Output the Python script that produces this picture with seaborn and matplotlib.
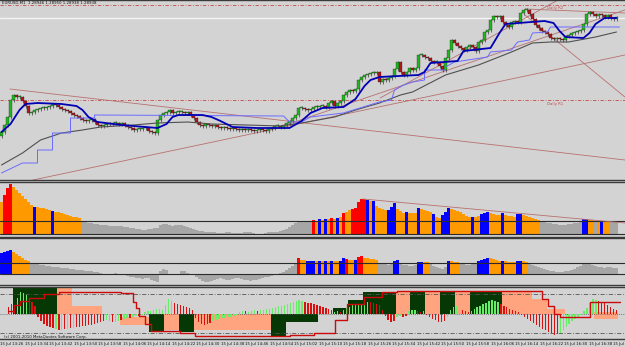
import numpy as np
import pandas as pd
import matplotlib
matplotlib.use("Agg")
import matplotlib.pyplot as plt
import seaborn as sns

# ---------------- data ----------------
# main window: closes of the M1 candles (price in chart points)
first_open = 44
closes = [48, 55, 63, 80, 85, 83, 83, 79, 74, 67,
          68, 70, 71, 72, 72, 73, 74, 76, 75, 73,
          71, 70, 69, 67, 65, 64, 62, 60, 59, 60,
          61, 58, 55, 54, 55, 56, 56, 57, 57, 56,
          57, 55, 53, 52, 50, 51, 51, 52, 52, 49,
          48, 47, 60, 65, 67, 68, 70, 67, 68, 68,
          68, 67, 68, 65, 62, 58, 55, 54, 56, 55,
          54, 55, 53, 52, 53, 52, 51, 52, 51, 50,
          51, 50, 51, 50, 49, 50, 51, 50, 49, 51,
          52, 54, 54, 53, 55, 57, 59, 62, 65, 72,
          72, 71, 70, 71, 73, 73, 74, 74, 73, 77,
          79, 74, 77, 79, 85, 88, 90, 89, 91, 100,
          103, 105, 106, 107, 107, 108, 98, 101, 100, 102,
          104, 111, 118, 108, 105, 108, 112, 110, 112, 125,
          125, 123, 122, 119, 118, 118, 114, 110, 122, 130,
          140, 137, 134, 132, 130, 133, 135, 133, 129, 138,
          140, 148, 150, 160, 164, 163, 164, 158, 155, 153,
          158, 159, 158, 167, 170, 170, 166, 161, 155, 152,
          149, 148, 146, 142, 141, 142, 141, 140, 144, 145,
          147, 148, 149, 150, 156, 166, 168, 166, 164, 166,
          165, 163, 165, 162, 161, 163]

ma_fast_bars = [0, 3, 6, 8, 12, 20, 25, 27, 29, 32, 40, 52, 55, 57, 59, 67, 70, 73, 77, 85,
                96, 100, 103, 107, 114, 118, 121, 123, 126, 139, 141, 143, 152, 154, 163, 166,
                168, 181, 184, 186, 188, 194, 196, 198, 201, 205]
ma_fast = [48, 56, 70, 76, 77, 76, 74, 70, 63, 58, 55, 52, 56, 63, 65, 65, 63, 59, 53, 52,
           52, 59, 67, 72, 73, 81, 94, 100, 103, 105, 108, 117, 119, 129, 132, 147,
           156, 159, 157, 149, 143, 142, 147, 156, 162, 162]

step_bars = [0, 7, 12, 12, 17, 17, 23, 23, 31, 31, 94, 96, 100, 103, 114, 126, 130, 131, 134, 137,
             141, 141, 148, 148, 151, 162, 163, 170, 172, 176, 177, 182, 183, 206]
step_vals = [7, 17, 17, 30, 30, 47, 47, 62, 62, 65, 64, 58, 58, 63, 67, 78, 80, 90, 95, 98,
             100, 110, 110, 113, 118, 123, 128, 130, 138, 140, 147, 148, 153, 153]

ma_slow_bars = [0, 7, 13, 20, 27, 33, 44, 52, 62, 70, 93, 100, 111, 118, 126, 133, 137, 148,
                159, 170, 177, 183, 189, 198, 205]
ma_slow = [15, 27, 40, 47, 50, 53, 55, 57, 58, 56, 54, 57, 63, 70, 77, 85, 88, 105,
           115, 128, 137, 138, 138, 143, 148]

# trend lines: start bar, start price, end bar, end price
trend_x0 = [2.8, 10.5, 92.8, 126.2, 174.5, 174.5]
trend_y0 = [91, 0, 53, 82, 171, 165]
trend_x1 = [207.8, 207.8, 207.8, 185.5, 207.8, 207.8]
trend_y1 = [20, 125, 170, 180, 167, 83]

pivot_levels = [175, 80]
pivot_names = ["Daily R2", "Daily R1"]
bid_level = 162.5
header = "EURUSD,M1  1.28946 1.28950 1.28938 1.28938"

# window 2: volume-style histogram, colour code per bar
vol_a = [32, 39, 46, 50, 47, 44, 41, 38, 35, 32,
         29, 27, 27, 26, 26, 25, 24, 23, 22, 22,
         21, 20, 19, 18, 17, 17, 16, 12, 12, 11,
         11, 10, 10, 9, 9, 9, 8, 8, 8, 8,
         8, 7, 7, 6, 6, 5, 5, 4, 4, 5,
         5, 6, 6, 9, 10, 10, 9, 8, 9, 9,
         9, 8, 7, 6, 5, 4, 3, 3, 2, 2,
         2, 2, 1, 1, 1, 2, 2, 1, 1, 1,
         1, 2, 2, 2, 1, 0, 0, 0, 1, 2,
         2, 2, 2, 3, 4, 5, 7, 9, 11, 12,
         12, 12, 12, 12, 14, 13, 15, 14, 15, 15,
         16, 15, 16, 17, 21, 22, 24, 25, 26, 32,
         35, 35, 34, 33, 33, 28, 26, 25, 24, 24,
         27, 31, 25, 23, 21, 22, 21, 21, 21, 26,
         25, 24, 23, 22, 20, 17, 16, 19, 22, 26,
         25, 24, 23, 22, 20, 18, 17, 17, 17, 18,
         20, 21, 22, 21, 20, 19, 19, 21, 19, 18,
         18, 17, 20, 20, 19, 18, 17, 16, 15, 14,
         12, 12, 11, 11, 10, 10, 9, 9, 9, 10,
         10, 11, 11, 12, 15, 15, 14, 14, 13, 13,
         13, 13, 12, 12, 12, 12]
vol_a_code = ("O" + "R" * 3 + "O" * 7 + "B" + "O" * 5 + "B" + "O" * 9 + "G" * 77
              + "ROBOBOROBOROO" + "R" * 5 + "BOB" + "O" * 4 + "B" * 3 + "O" * 3 + "B"
              + "O" * 3 + "B" + "O" * 4 + "B" + "OO" + "B" * 3 + "O" * 7 + "B" + "OO"
              + "B" * 3 + "O" * 4 + "B" + "O" * 4 + "BB" + "O" * 6 + "G" * 14 + "BB"
              + "OO" + "GOBOO" + "GGG")
vol_a_level = 13
vol_a_trend = [120.5, 35, 207.8, 11]

# window 3: second histogram
vol_b = [22, 23, 24, 25, 23, 21, 19, 17, 15, 13,
         11, 10, 10, 9, 9, 8, 8, 7, 7, 7,
         6, 6, 6, 5, 5, 4, 4, 4, 3, 3,
         3, 2, 2, 1, 0, -1, 0, 0, 1, 0,
         0, -1, -2, -3, -3, -4, -4, -5, -4, -4,
         -6, -7, -8, 3, 5, 4, 0, -1, -1, 0,
         3, 3, 1, 0, -1, -3, -5, -7, -8, -8,
         -7, -6, -5, -4, -5, -6, -6, -5, -4, -4,
         -5, -6, -6, -7, -6, -6, -5, -4, -3, -3,
         -2, -1, 0, 1, 2, 4, 6, 8, 10, 17,
         15, 15, 14, 13, 14, 13, 13, 13, 13, 13,
         13, 13, 13, 14, 17, 16, 15, 15, 15, 18,
         19, 17, 17, 16, 16, 15, 10, 10, 10, 9,
         10, 14, 15, 10, 9, 9, 8, 8, 9, 12,
         12, 12, 12, 10, 8, 7, 6, 5, 7, 14,
         13, 12, 12, 10, 10, 9, 9, 10, 10, 14,
         15, 16, 17, 17, 16, 15, 14, 14, 13, 12,
         12, 12, 14, 14, 13, 12, 10, 9, 8, 7,
         6, 5, 4, 3, 3, 2, 2, 2, 3, 3,
         4, 5, 7, 8, 10, 10, 10, 9, 8, 7,
         7, 6, 7, 7, 6, 6]
vol_b_code = ("B" * 4 + "O" * 6 + "G" * 89 + "R" + "OO" + "B" * 3 + "OBOBOBOO" + "BB" + "R"
              + "OO" + "B" + "RR" + "O" * 5 + "G" * 5 + "BB" + "G" * 6 + "BB" + "OO" + "G" * 6
              + "B" + "O" * 3 + "G" * 6 + "B" * 4 + "O" * 4 + "B" + "O" * 4 + "BB" + "OO" + "G" * 30)
vol_b_level = 11

# window 4: oscillator histogram, cloud blocks and signal line
osc = [6, 9, 4, 15, 21, 20, 18, 14, 11, 7,
       -3, -7, -10, -12, -13, -14, -15, -16, -16, -15,
       -15, -14, -14, -13, -13, -12, -12, -11, -11, -10,
       -9, -8, -7, -6, -7, -8, -8, -7, -6, -5,
       -4, -4, -3, -2, -2, -1, 1, 2, 2, 3,
       4, 4, 3, 8, 14, 12, 10, 9, 8, 7,
       6, 5, 3, -4, -8, -10, -11, -10, -9, -7,
       -6, -5, -4, -4, -3, -3, -2, -1, 1, 2,
       2, 1, 2, 3, 2, 3, 3, 4, 4, 5,
       6, 7, 7, 8, 9, 10, 11, 12, 13, 12,
       11, 10, 10, 9, 8, 7, 6, 5, 4, 3,
       1, 2, 1, 3, 5, 6, 8, 9, 9, 8,
       10, 11, 11, 10, 9, 8, 3, -2, -6, -8,
       -7, -3, -2, -3, -2, 2, 3, 3, 2, 1,
       2, -1, -3, -5, -6, -8, -8, -7, -3, 3,
       6, 7, 5, 3, 2, 1, 2, 4, 6, 7,
       9, 10, 12, 13, 12, 11, 9, 7, 6, 4,
       3, 2, 1, -1, -3, -5, -7, -9, -11, -13,
       -15, -16, -18, -19, -21, -20, -19, -16, -13, -10,
       -7, -5, -3, -1, 2, 5, 10, 14, 13, 12,
       11, 10, 8, 6, 4, 3]
osc_code = ("RRR" + "G" * 4 + "R" * 9 + "GRGRGRG" + "R" * 10 + "GGRGGRGGRGGR" + "G" * 11
            + "R" * 13 + "G" * 11 + "R" + "GGG" + "R" + "G" * 15 + "R" * 10 + "GG" + "R"
            + "G" * 9 + "R" * 9 + "GG" + "RR" + "GGG" + "RR" + "G" + "R" * 7 + "G" * 5
            + "RRR" + "G" * 10 + "R" * 20 + "G" * 13 + "R" * 7)

cloud_start = [2, 17, 22, 38, 48, 53, 58, 63, 89, 94, 110, 115, 120, 126, 131, 136, 141, 146,
               151, 156, 167, 177, 182, 198]
cloud_end = [17, 22, 32, 48, 53, 58, 63, 89, 94, 105, 115, 120, 126, 131, 136, 141, 146, 151,
             156, 167, 177, 182, 188, 206]
cloud_lo = [0, 0, 0, -11, -18, -16, -18, -16, -23, -8, 0, 0, 0, 0, 0, 0, 0, 0, 0, 0, 0, 0, 0, -5]
cloud_hi = [26, 26, 7, -3, 0, 0, 0, 0, 0, 0, 5, 13, 21, 21, 21, 21, 21, 21, 21, 22, 21, 14, 4, 1]
cloud_kind = "KSSSKSKSKKKKKKSKSKSKSSSS"

signal_bars = [0, 2, 4, 7, 12, 17, 38, 42, 43, 44, 46, 48, 58, 63, 95, 103, 110, 114, 120, 126,
               131, 180, 182, 184, 186, 196, 206]
signal = [2, 8, 12, 15, 19, 21, 20, 11, 5, -2, -10, -17, -19, -22, -21, -19, -6, 9, 16, 21,
          22, 14, 7, 0, -3, 11, 11]
osc_levels = [19, -19]

tick_times = ["13:26", "13:34", "13:42", "13:50", "13:58", "14:06", "14:14", "14:22", "14:30",
              "14:38", "14:46", "14:54", "15:02", "15:10", "15:18", "15:26", "15:34", "15:42",
              "15:50", "15:58", "16:06", "16:14", "16:22", "16:30", "16:38", "16:46"]

# ---------------- style ----------------
bg = "#d3d3d3"
sns.set_style("white", {"axes.facecolor": bg, "figure.facecolor": bg})
plt.rcParams["font.family"] = ["DejaVu Sans"]

hist_pal = {"R": "#ff0000", "O": "#ff9900", "B": "#0000ff", "G": "#a6a6a6"}
osc_pal = {"R": "#d81010", "G": "#66ee66"}
cloud_pal = {"K": "#063806", "S": "#ffa47e"}
tiny = 2.8

fig = plt.figure(figsize=(6.25, 3.47), dpi=100)
H = 347.0


def panel(top, bottom):
    ax = fig.add_axes([0, 1 - bottom / H, 1, (bottom - top) / H])
    ax.set_facecolor(bg)
    for s in ["left", "right"]:
        ax.spines[s].set_visible(False)
    for s in ["top", "bottom"]:
        ax.spines[s].set_color("#3a3a3a")
        ax.spines[s].set_linewidth(1.0)
    ax.set_yticks([])
    return ax


ax1 = panel(0, 180)
ax2 = panel(182, 237)
ax3 = panel(238, 285)
ax4 = panel(287, 339)

n = len(closes)
bars = np.arange(n)
xlim = (-0.5, 207.83)

# ---- main window ----
opens = np.array([first_open] + closes[:-1], dtype=float)
cl = np.array(closes, dtype=float)
low_body = np.minimum(opens, cl)
body = np.maximum(np.abs(cl - opens), 0.8)
up = cl >= opens
ax1.vlines(bars, low_body - 1.5, low_body + body + 1.5, color="#2a2a2a", lw=0.45, zorder=3)
ax1.bar(bars, body, bottom=low_body, width=0.72, color=np.where(up, "#1fb51f", "#b3161a"),
        edgecolor="#1a1a1a", linewidth=0.2, zorder=4)

for lvl in pivot_levels:
    ax1.axhline(lvl, color="#c84848", lw=0.6, ls=(0, (4, 2, 1, 2)), zorder=1)
for lvl, name in zip(pivot_levels, pivot_names):
    ax1.text(184.5, lvl - 1.5, name, fontsize=tiny, color="#c84848", ha="center", va="top")
ax1.axhline(bid_level, color="#f4f4f4", lw=1.0, zorder=1)

for x0, y0, x1, y1 in zip(trend_x0, trend_y0, trend_x1, trend_y1):
    ax1.plot([x0, x1], [y0, y1], color="#b87070", lw=0.6, zorder=2)

sns.lineplot(x=ma_slow_bars, y=ma_slow, estimator=None, sort=False, color="#505050", lw=0.8,
             ax=ax1, zorder=5)
sns.lineplot(x=step_bars, y=step_vals, estimator=None, sort=False, color="#6b6bff", lw=0.7,
             ax=ax1, zorder=5)
sns.lineplot(x=ma_fast_bars, y=ma_fast, estimator=None, sort=False, color="#0000b4", lw=1.3,
             ax=ax1, zorder=6)
ax1.text(0.2, 178.6, header, fontsize=tiny, color="#111111", ha="left", va="top")
ax1.set_ylim(0, 180)

# ---- window 2 ----
df2 = pd.DataFrame({"bar": bars, "val": vol_a, "code": list(vol_a_code)})
sns.barplot(data=df2, x="bar", y="val", hue="code", palette=hist_pal, dodge=False,
            native_scale=True, width=1.0, saturation=1, linewidth=0, legend=False,
            errorbar=None, ax=ax2)
ax2.axhline(0, color="#2a2a2a", lw=0.8)
ax2.axhline(vol_a_level, color="#2a2a2a", lw=0.8)
ax2.plot(vol_a_trend[0::2], vol_a_trend[1::2], color="#b87070", lw=0.6)
ax2.set_ylim(-3, 52)

# ---- window 3 ----
df3 = pd.DataFrame({"bar": bars, "val": vol_b, "code": list(vol_b_code)})
sns.barplot(data=df3, x="bar", y="val", hue="code", palette=hist_pal, dodge=False,
            native_scale=True, width=1.0, saturation=1, linewidth=0, legend=False,
            errorbar=None, ax=ax3)
ax3.axhline(0, color="#2a2a2a", lw=0.8)
ax3.axhline(vol_b_level, color="#2a2a2a", lw=0.8)
ax3.set_ylim(-11, 37)

# ---- window 4 ----
c_start = np.array(cloud_start) - 0.5
c_width = np.array(cloud_end) - np.array(cloud_start)
c_lo = np.array(cloud_lo)
c_hi = np.array(cloud_hi)
ax4.bar(c_start, c_hi - c_lo, bottom=c_lo, width=c_width, align="edge",
        color=[cloud_pal[k] for k in cloud_kind], linewidth=0, zorder=1)
for lvl in osc_levels:
    ax4.axhline(lvl, color="#555555", lw=0.6, ls=(0, (5, 2, 1, 2)), zorder=2)
ax4.axhline(0, color="#555555", lw=0.6, ls=(0, (1, 1.5)), zorder=2)
df4 = pd.DataFrame({"bar": bars, "val": osc, "code": list(osc_code)})
sns.barplot(data=df4, x="bar", y="val", hue="code", palette=osc_pal, dodge=False,
            native_scale=True, width=0.45, saturation=1, linewidth=0, legend=False,
            errorbar=None, ax=ax4, zorder=3)
ax4.step(signal_bars, signal, where="post", color="#cc0a0a", lw=1.0, zorder=4)
ax4.text(-1.5, -23, "(c) 2001-2010 MetaQuotes Software Corp.", fontsize=tiny, color="#111111",
         ha="left", va="center")
ax4.set_ylim(-25, 26)

# time axis: labels every 8 minutes, 3.1 px per minute on a 3 px bar grid
px_per_min = 3.1
tick_pos = [(-7 + k * 8 * px_per_min) / 3 - 0.5 for k in range(len(tick_times))]
for ax in (ax1, ax2, ax3, ax4):
    ax.set_xlim(*xlim)
    ax.set_xlabel("")
    ax.set_ylabel("")
    ax.tick_params(axis="x", length=0, labelbottom=False)
ax4.set_xticks(tick_pos)
ax4.set_xticklabels(["15 Jul " + t for t in tick_times], fontsize=tiny, ha="left")
ax4.tick_params(axis="x", length=1.5, width=0.4, pad=0.6, labelbottom=True, colors="#111111")

fig.savefig("out.png", dpi=100, facecolor=bg)
